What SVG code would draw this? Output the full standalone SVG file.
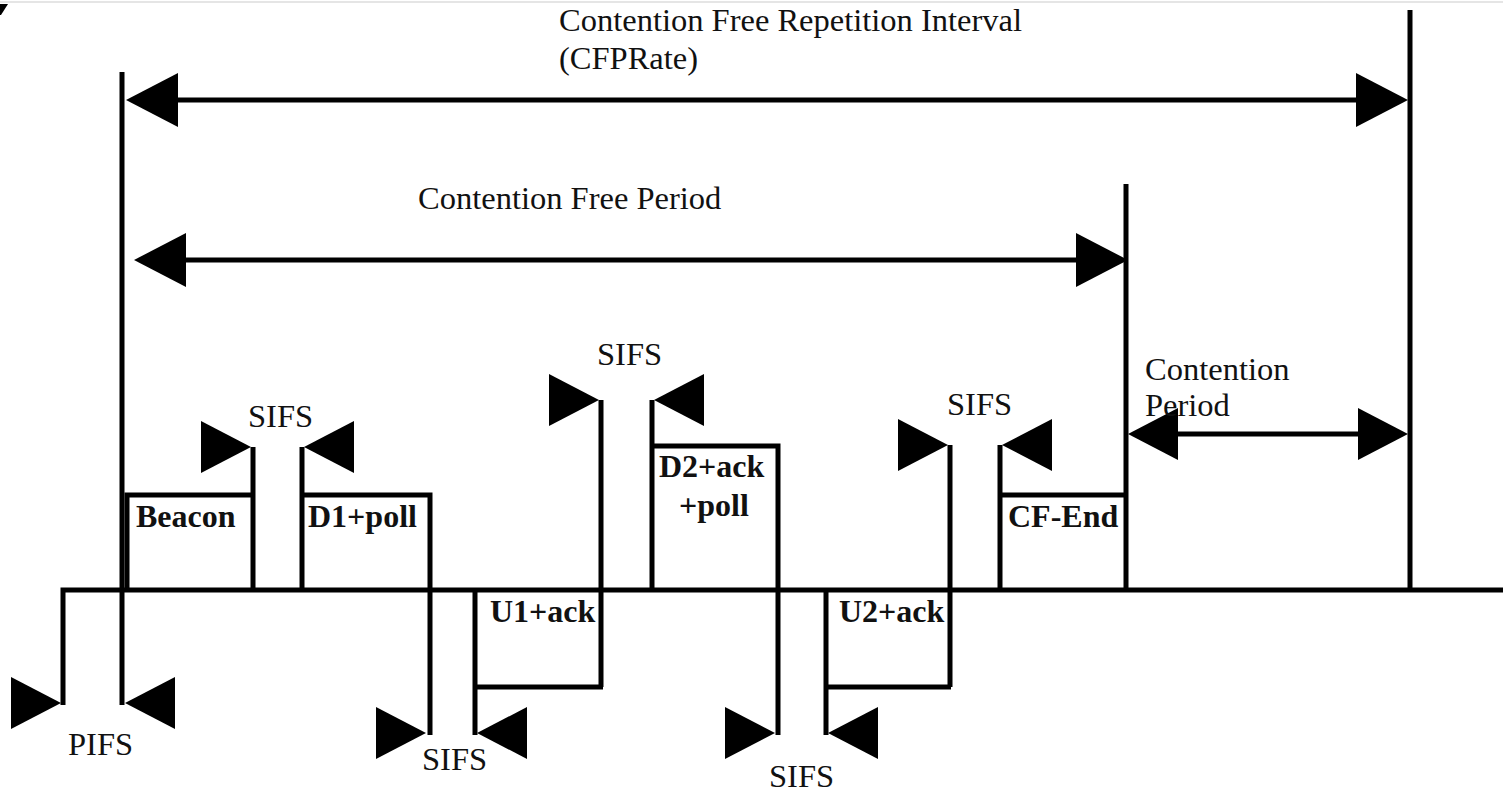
<svg xmlns="http://www.w3.org/2000/svg" width="1503" height="792" viewBox="0 0 1503 792">
  <style>
    .ln { fill: none; stroke: #000; stroke-width: 5; stroke-linecap: butt; }
    .lbl { font-family: "Liberation Serif", "Times New Roman", serif; font-size: 32.5px; fill: #111; }
    .frm { font-family: "Liberation Serif", "Times New Roman", serif; font-size: 32px; font-weight: bold; fill: #111; }
    .ah { fill: #000; }
  </style>
  <defs>
    <!-- arrowhead pointing right, tip at origin -->
    <path id="ah" d="M0,0 L-50,-26 L-50,26 Z"/>
    <path id="ahL" d="M0,0 L-52,-27 L-52,27 Z"/>
  </defs>

  <rect width="1503" height="792" fill="#fff"/>
  <line x1="0" y1="2" x2="1503" y2="2" stroke="#ddd" stroke-width="1.5"/>
  <polygon points="0,4 8,4 1,15 0,15" fill="#000"/>

  <!-- time axis and boundaries -->
  <g id="timeline">
    <path class="ln" d="M63,705 V590 H1503"/>
    <path class="ln" d="M122,72 V705"/>
    <path class="ln" d="M1126,184 V590"/>
    <path class="ln" d="M1410,10 V590" stroke-width="4"/>
  </g>

  <!-- frames -->
  <g id="beacon">
    <path class="ln" d="M127,590 V495 H253 M253,447 V590"/>
    <text class="frm" x="136" y="527">Beacon</text>
  </g>
  <g id="d1-poll">
    <path class="ln" d="M302,447 V590 M302,495 H430 V735"/>
    <text class="frm" x="308" y="527">D1+poll</text>
  </g>
  <g id="u1-ack">
    <path class="ln" d="M475,735 V590 M475,687 H603 M601,400 V687"/>
    <text class="frm" x="490" y="622">U1+ack</text>
  </g>
  <g id="d2-ack-poll">
    <path class="ln" d="M652,400 V590 M652,446 H778 V735"/>
    <text class="frm" x="659" y="477">D2+ack</text>
    <text class="frm" x="679" y="516">+poll</text>
  </g>
  <g id="u2-ack">
    <path class="ln" d="M826,735 V590 M826,687 H951 M950,445 V687"/>
    <text class="frm" x="839" y="622">U2+ack</text>
  </g>
  <g id="cf-end">
    <path class="ln" d="M1000,445 V590 M1000,495 H1126"/>
    <text class="frm" x="1008" y="527">CF-End</text>
  </g>

  <!-- interframe spaces -->
  <g id="pifs">
    <use href="#ah" class="ah" transform="translate(61,703)"/>
    <use href="#ah" class="ah" transform="translate(125,703) rotate(180)"/>
    <text class="lbl" x="68" y="755">PIFS</text>
  </g>
  <g id="sifs-1">
    <use href="#ah" class="ah" transform="translate(251,447)"/>
    <use href="#ah" class="ah" transform="translate(304,447) rotate(180)"/>
    <text class="lbl" x="248" y="427">SIFS</text>
  </g>
  <g id="sifs-2">
    <use href="#ah" class="ah" transform="translate(426,733)"/>
    <use href="#ah" class="ah" transform="translate(477,733) rotate(180)"/>
    <text class="lbl" x="422" y="770">SIFS</text>
  </g>
  <g id="sifs-3">
    <use href="#ah" class="ah" transform="translate(599,400)"/>
    <use href="#ah" class="ah" transform="translate(654,400) rotate(180)"/>
    <text class="lbl" x="597" y="365">SIFS</text>
  </g>
  <g id="sifs-4">
    <use href="#ah" class="ah" transform="translate(775,733)"/>
    <use href="#ah" class="ah" transform="translate(828,733) rotate(180)"/>
    <text class="lbl" x="769" y="787">SIFS</text>
  </g>
  <g id="sifs-5">
    <use href="#ah" class="ah" transform="translate(948,445)"/>
    <use href="#ah" class="ah" transform="translate(1002,445) rotate(180)"/>
    <text class="lbl" x="947" y="415">SIFS</text>
  </g>

  <!-- period spans -->
  <g id="connectors">
    <path class="ln" d="M170,100 H1370"/>
    <use href="#ahL" class="ah" transform="translate(126,100) rotate(180)"/>
    <use href="#ahL" class="ah" transform="translate(1408,100)"/>

    <path class="ln" d="M175,260 H1090"/>
    <use href="#ahL" class="ah" transform="translate(134,260) rotate(180)"/>
    <use href="#ahL" class="ah" transform="translate(1128,260)"/>

    <path class="ln" d="M1165,434 H1370"/>
    <use href="#ah" class="ah" transform="translate(1128,434) rotate(180)"/>
    <use href="#ah" class="ah" transform="translate(1408,434)"/>
  </g>

  <g id="period-labels">
    <text class="lbl" x="559" y="31">Contention Free Repetition Interval</text>
    <text class="lbl" x="559" y="69">(CFPRate)</text>
    <text class="lbl" x="418" y="209">Contention Free Period</text>
    <text class="lbl" x="1145" y="380">Contention</text>
    <text class="lbl" x="1145" y="416">Period</text>
  </g>
</svg>
